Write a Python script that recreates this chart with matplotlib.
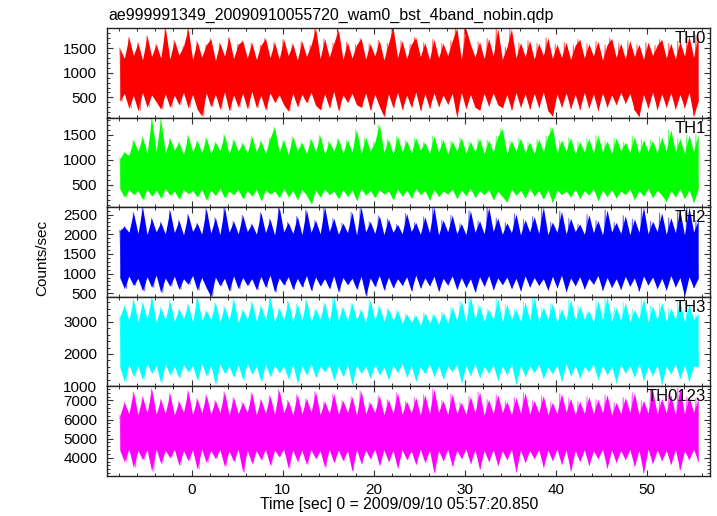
import numpy as np
import matplotlib
matplotlib.use('Agg')
import matplotlib.pyplot as plt
from matplotlib.ticker import MultipleLocator

plt.rcParams['font.family'] = ['Liberation Sans', 'DejaVu Sans']

# time bins (sec since 2009/09/10 05:57:20.850)
t_start = -7.9
t_end = 55.6

# alternating peak / trough samples of each light curve (counts/sec),
# read off the plot: *_hi are the peaks, *_lo the troughs in between
th0_hi = [1500, 1290, 1720, 1350, 1610, 1260, 1750, 1330, 1580, 1300,
          1920, 1280, 1660, 1360, 1540, 1900, 1270, 1640, 1320, 1570,
          1690, 1250, 1600, 1340, 1720, 1290, 1580, 1650, 1300, 1610,
          1270, 1560, 1700, 1310, 1620, 1280, 1680, 1350, 1590, 1260,
          1640, 1330, 1560, 1910, 1290, 1690, 1320, 1600, 1880, 1270,
          1620, 1300, 1570, 1700, 1280, 1590, 1340, 1660, 1260, 1600,
          1920, 1310, 1650, 1290, 1580, 1720, 1330, 1610, 1270, 1680,
          1300, 1600, 1350, 1650, 1910, 1280, 1900, 1580, 1320, 1630,
          1290, 1700, 1340, 1900, 1270, 1520, 1890, 1300, 1610, 1330,
          1650, 1280, 1600, 1350, 1710, 1290, 1580, 1310, 1620, 1270,
          1560, 1680, 1300, 1590, 1340, 1640, 1260, 1570, 1700, 1310,
          1600, 1290, 1650, 1330, 1580, 1270, 1620, 1350, 1560, 1680,
          1300, 1600, 1280, 1640, 1340, 1750, 1310, 1760]
th0_lo = [420, 580, 280, 540, 230, 600, 300, 550, 410, 260,
          570, 300, 540, 350, 600, 290, 560, 260, 120, 590,
          310, 560, 260, 610, 230, 550, 300, 580, 270, 620,
          290, 540, 240, 590, 400, 550, 350, 220, 580, 310,
          560, 390, 600, 340, 250, 570, 290, 620, 230, 550,
          400, 580, 350, 300, 590, 240, 560, 320, 110, 570,
          290, 600, 250, 550, 300, 610, 230, 570, 280, 590,
          310, 550, 360, 580, 100, 600, 270, 560, 300, 240,
          580, 320, 590, 350, 290, 560, 240, 600, 300, 570,
          260, 580, 290, 610, 230, 120, 570, 300, 590, 270,
          560, 250, 600, 280, 570, 230, 590, 300, 550, 350,
          600, 380, 580, 240, 110, 560, 280, 610, 250, 570,
          300, 590, 260, 560, 290, 600, 120, 420]

th1_hi = [1020, 1150, 1080, 1390, 1170, 1450, 1120, 1820, 1160, 1800,
          1130, 1420, 1190, 1350, 1100, 1480, 1160, 1380, 1140, 1440,
          1120, 1350, 1180, 1500, 1110, 1400, 1170, 1330, 1130, 1460,
          1160, 1370, 1120, 1430, 1650, 1150, 1390, 1100, 1460, 1180,
          1340, 1120, 1410, 1160, 1480, 1110, 1360, 1170, 1420, 1130,
          1390, 1150, 1600, 1120, 1440, 1170, 1350, 1700, 1140, 1410,
          1110, 1460, 1160, 1380, 1130, 1430, 1190, 1350, 1120, 1470,
          1150, 1400, 1110, 1370, 1170, 1440, 1130, 1360, 1160, 1420,
          1120, 1390, 1150, 1460, 1620, 1110, 1380, 1170, 1430, 1140,
          1350, 1120, 1410, 1160, 1470, 1640, 1130, 1390, 1170, 1440,
          1110, 1360, 1150, 1420, 1130, 1480, 1160, 1370, 1120, 1430,
          1170, 1350, 1140, 1460, 1110, 1400, 1160, 1380, 1130, 1450,
          1170, 1600, 1150, 1420, 1120, 1490, 1160, 1500]
th1_lo = [420, 250, 400, 300, 380, 200, 410, 270, 390, 230,
          420, 290, 370, 210, 400, 320, 380, 250, 410, 190,
          390, 280, 420, 240, 370, 300, 400, 220, 380, 270,
          410, 180, 390, 310, 370, 240, 420, 260, 380, 200,
          400, 290, 120, 390, 250, 410, 300, 370, 220, 400,
          260, 390, 180, 420, 290, 380, 240, 400, 310, 370,
          200, 410, 270, 390, 230, 420, 300, 380, 190, 400,
          260, 370, 310, 410, 220, 390, 280, 420, 240, 380,
          300, 400, 200, 370, 260, 150, 410, 290, 390, 230,
          420, 270, 380, 210, 400, 140, 390, 300, 370, 250,
          410, 220, 380, 290, 420, 180, 390, 260, 400, 230,
          370, 300, 410, 200, 380, 270, 420, 240, 390, 290,
          160, 380, 250, 410, 220, 390, 140, 420]

th2_hi = [2100, 2200, 2050, 2550, 2020, 2690, 1990, 2400, 2060, 2300,
          2010, 2600, 2040, 2350, 1980, 2500, 2070, 2280, 2000, 2650,
          2030, 2420, 1990, 2690, 2050, 2330, 2010, 2480, 2070, 2260,
          2000, 2550, 2040, 2380, 1980, 2690, 2060, 2300, 2020, 2450,
          1990, 2620, 2050, 2350, 2010, 2690, 2070, 2400, 2000, 2280,
          2040, 2560, 1980, 2690, 2060, 2320, 2020, 2470, 1990, 2390,
          2050, 2250, 2010, 2530, 2070, 2300, 2000, 2440, 2040, 2690,
          1980, 2360, 2060, 2480, 2020, 2270, 1990, 2600, 2050, 2340,
          2010, 2690, 2070, 2410, 2000, 2290, 2040, 2520, 1980, 2370,
          2060, 2450, 2020, 2690, 1990, 2310, 2050, 2580, 2010, 2400,
          2070, 2260, 2000, 2500, 2040, 2350, 1980, 2620, 2060, 2300,
          2020, 2470, 1990, 2390, 2050, 2690, 2010, 2330, 2070, 2540,
          2000, 2420, 2040, 2600, 1980, 2690, 2060, 2350]
th2_lo = [900, 620, 940, 700, 880, 560, 920, 650, 960, 520,
          890, 680, 930, 600, 870, 730, 950, 580, 900, 640,
          420, 910, 690, 880, 560, 940, 620, 900, 700, 870,
          590, 930, 650, 960, 530, 890, 710, 920, 600, 880,
          660, 950, 570, 910, 690, 870, 620, 940, 540, 900,
          720, 880, 600, 930, 430, 890, 670, 950, 580, 910,
          640, 870, 700, 920, 560, 960, 630, 890, 690, 930,
          550, 880, 710, 940, 600, 900, 650, 870, 530, 920,
          680, 950, 590, 890, 720, 910, 620, 880, 560, 940,
          660, 900, 700, 870, 580, 930, 640, 960, 540, 890,
          690, 920, 610, 880, 730, 950, 570, 900, 650, 870,
          600, 930, 680, 890, 550, 940, 710, 910, 620, 880,
          580, 950, 660, 900, 430, 920, 640, 880]

th3_hi = [3150, 3500, 3050, 3700, 3000, 3600, 3080, 3780, 2980, 3450,
          3060, 3650, 3010, 3400, 3090, 3550, 2990, 3780, 3040, 3350,
          3070, 3600, 3000, 3480, 3050, 3700, 2980, 3380, 3080, 3620,
          3020, 3500, 3060, 3780, 2990, 3420, 3070, 3650, 3010, 3550,
          3040, 3700, 3000, 3400, 3080, 3600, 2980, 3780, 3050, 3460,
          3020, 3580, 3070, 3380, 2990, 3680, 3060, 3500, 3010, 3420,
          3040, 3350, 2950, 3250, 2980, 3200, 2900, 3280, 2960, 3230,
          2930, 3300, 2970, 3450, 3050, 3650, 3000, 3780, 3080, 3520,
          3020, 3400, 3060, 3700, 2990, 3550, 3070, 3380, 3010, 3620,
          3040, 3780, 3000, 3460, 3080, 3580, 2980, 3400, 3050, 3700,
          3020, 3500, 3070, 3350, 2990, 3650, 3060, 3780, 3010, 3450,
          3040, 3600, 3000, 3380, 3080, 3720, 2980, 3500, 3050, 3600,
          3020, 3420, 3070, 3650, 2990, 3550, 3060, 3250]
th3_lo = [1600, 1150, 1680, 1300, 1620, 1200, 1700, 1400, 1650, 1100,
          1690, 1350, 1610, 1250, 1670, 1450, 1630, 1180, 1700, 1320,
          1640, 1050, 1680, 1400, 1620, 1280, 1660, 1200, 1700, 1380,
          1610, 1150, 1690, 1300, 1650, 1420, 1620, 1230, 1680, 1100,
          1640, 1350, 1700, 1270, 1610, 1450, 1670, 1180, 1630, 1310,
          1690, 1050, 1650, 1400, 1620, 1250, 1680, 1350, 1600, 1200,
          1660, 1420, 1700, 1280, 1640, 1150, 1610, 1380, 1690, 1300,
          1650, 1220, 1620, 1450, 1680, 1100, 1640, 1330, 1700, 1260,
          1610, 1400, 1670, 1180, 1630, 1350, 1690, 1050, 1650, 1300,
          1620, 1420, 1680, 1240, 1600, 1380, 1660, 1150, 1700, 1320,
          1640, 1250, 1610, 1450, 1690, 1200, 1650, 1350, 1620, 1100,
          1680, 1400, 1640, 1280, 1700, 1180, 1610, 1330, 1670, 1050,
          1630, 1380, 1690, 1240, 1650, 1150, 1620, 1600]

th0123_hi = [6200, 6900, 6300, 7450, 6250, 7200, 6350, 7600, 6280, 7050,
             6320, 7350, 6240, 6950, 6380, 7500, 6260, 7100, 6340, 7300,
             6290, 7000, 6360, 7450, 6230, 7150, 6310, 6900, 6370, 7400,
             6250, 7050, 6330, 7250, 6280, 7550, 6350, 7000, 6240, 7300,
             6300, 7100, 6380, 7450, 6260, 6950, 6320, 7350, 6290, 7000,
             6360, 7200, 6230, 7500, 6310, 6900, 6370, 7250, 6250, 7050,
             6330, 7400, 6280, 6950, 6350, 7150, 6240, 7300, 6300, 7600,
             6380, 7000, 6260, 7350, 6320, 6900, 6290, 7200, 6360, 7450,
             6230, 7050, 6310, 7300, 6370, 6950, 6250, 7150, 6330, 7400,
             6280, 7000, 6350, 7250, 6240, 6900, 6300, 7350, 6380, 7100,
             6260, 6950, 6320, 7200, 6290, 7050, 6360, 7300, 6230, 6900,
             6310, 7150, 6370, 7400, 6250, 7000, 6330, 7550, 6280, 7100,
             6350, 7300, 6240, 7650, 6300, 7200, 6380, 7100]
th0123_lo = [4400, 3800, 4450, 3500, 4380, 3900, 4420, 3300, 4460, 3700,
             4390, 4000, 4430, 3600, 4370, 3850, 4410, 3400, 4450, 3750,
             4380, 3950, 4420, 3550, 4360, 3800, 4440, 3250, 4400, 3700,
             4370, 3900, 4430, 3600, 4390, 4050, 4450, 3450, 4410, 3800,
             4380, 3650, 4420, 3950, 4360, 3500, 4440, 3750, 4400, 3850,
             4370, 3300, 4430, 3700, 4390, 3950, 4450, 3600, 4410, 3800,
             4380, 3450, 4420, 3900, 4360, 3650, 4440, 3750, 4400, 3200,
             4370, 3850, 4430, 3550, 4390, 3950, 4450, 3700, 4410, 3400,
             4380, 3800, 4420, 3600, 4360, 3900, 4440, 3250, 4400, 3750,
             4370, 3950, 4430, 3500, 4390, 3850, 4450, 3650, 4410, 3300,
             4380, 3800, 4420, 3600, 4360, 3950, 4440, 3450, 4400, 3750,
             4370, 3900, 4430, 3550, 4390, 3200, 4450, 3700, 4410, 3850,
             4380, 3650, 4420, 3350, 4360, 3900, 4440, 3800]

names = ['TH0', 'TH1', 'TH2', 'TH3', 'TH0123']
colors = ['#ff0000', '#00ff00', '#0000ff', '#00ffff', '#ff00ff']
highs = [th0_hi, th1_hi, th2_hi, th3_hi, th0123_hi]
lows = [th0_lo, th1_lo, th2_lo, th3_lo, th0123_lo]
ylims = [(90, 1910), (50, 1840), (415, 2690), (1000, 3780), (3060, 7745)]
ymajor = [500, 500, 500, 1000, 1000]
yminor = [100, 100, 100, 200, 200]

fig = plt.figure(figsize=(7.17, 5.16), dpi=100)
left, right = 107 / 717, 710 / 717
top, bottom = 1 - 28 / 516, 1 - 475.7 / 516
h = (top - bottom) / 5

for k in range(5):
    ax = fig.add_axes([left, top - (k + 1) * h, right - left, h])
    hi = np.array(highs[k])
    lo = np.array(lows[k])
    t_env = np.linspace(t_start, t_end, len(hi))
    # envelope of the curve, then the sampled curve itself on top
    ax.fill_between(t_env, lo, hi, color=colors[k], lw=0)
    rate = np.column_stack([hi, lo]).ravel()
    t = np.linspace(t_start, t_end, len(rate))
    ax.plot(t, rate, color=colors[k], lw=0.7, alpha=0.6)
    ax.set_xlim(-9.3, 56.9)
    ax.set_ylim(*ylims[k])
    ax.xaxis.set_major_locator(MultipleLocator(10))
    ax.xaxis.set_minor_locator(MultipleLocator(2))
    ax.yaxis.set_major_locator(MultipleLocator(ymajor[k]))
    ax.yaxis.set_minor_locator(MultipleLocator(yminor[k]))
    ax.tick_params(which='both', direction='in', top=True, right=True,
                   color='#333333', labelsize=11)
    ax.tick_params(which='major', length=4.5, width=0.8)
    ax.tick_params(which='minor', length=2.2, width=0.7)
    ax.tick_params(axis='y', pad=7)
    ax.tick_params(axis='x', pad=5)
    if k < 4:
        ax.tick_params(labelbottom=False)
    for s in ax.spines.values():
        s.set_linewidth(1.0)
        s.set_color('#222222')
    ax.text(0.993, 0.965, names[k], transform=ax.transAxes, ha='right',
            va='top', fontsize=12)

fig.text(108 / 717, 1 - 20 / 516, 'ae999991349_20090910055720_wam0_bst_4band_nobin.qdp',
         fontsize=11.5, ha='left', va='baseline')
fig.text(399.5 / 717, 1 - 504 / 516, 'Time [sec] 0 = 2009/09/10 05:57:20.850',
         fontsize=11.3, ha='center', va='center')
fig.text(42 / 717, 1 - 258 / 516, 'Counts/sec', fontsize=11, rotation=90,
         ha='center', va='center')

fig.savefig('out.png', dpi=100)
